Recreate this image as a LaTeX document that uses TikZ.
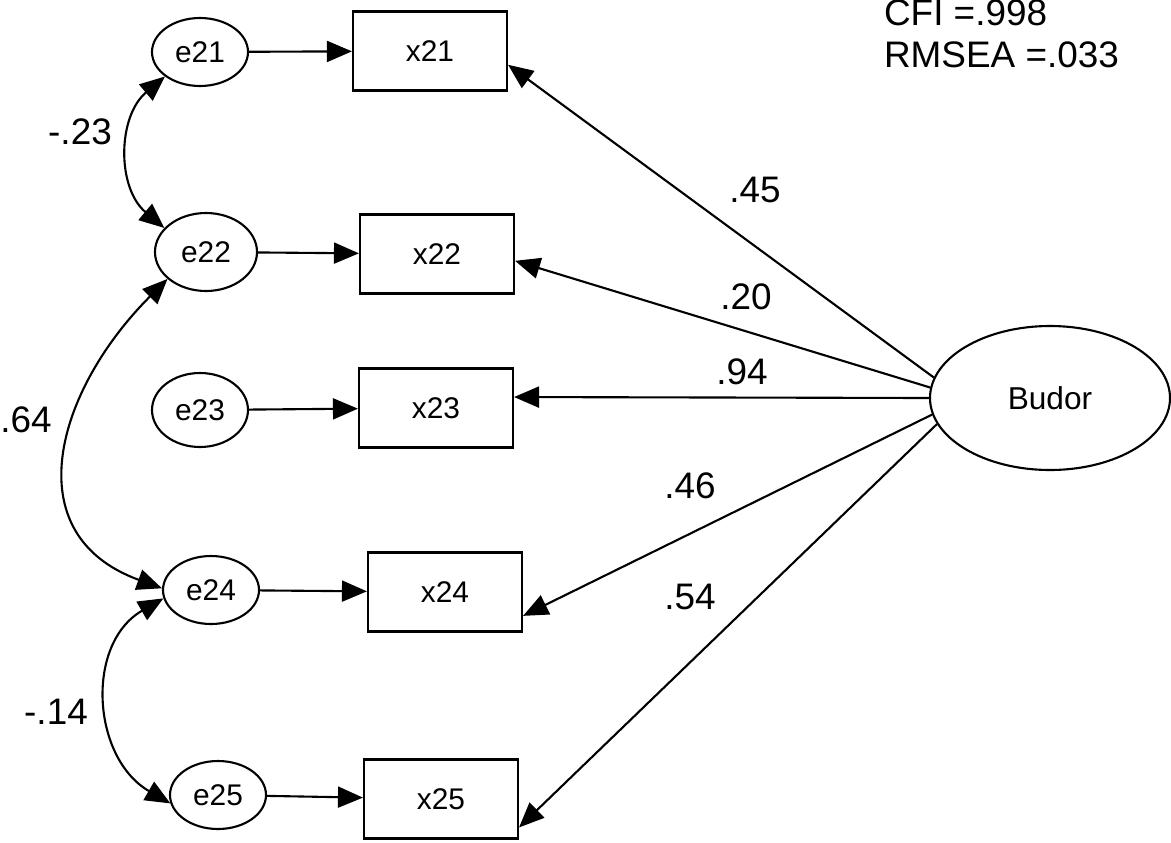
\documentclass[tikz,border=0pt]{standalone}
\usepackage{fontspec}
\setmainfont{Liberation Sans}
\usetikzlibrary{arrows.meta,shapes.geometric}

\begin{document}
\begin{tikzpicture}[x=0.1mm,y=-0.1mm,line width=0.6pt,
	err/.style={ellipse,draw,minimum width=9.6mm,minimum height=6.8mm,inner sep=0pt,font=\fontsize{8.5}{10}\selectfont},
	obs/.style={rectangle,draw,minimum width=15.4mm,minimum height=7.9mm,inner sep=0pt,font=\fontsize{8.5}{10}\selectfont},
	load/.style={-{Triangle[length=2.5mm,width=2.1mm]}},
	cov/.style={{Triangle[length=2.5mm,width=2.1mm]}-{Triangle[length=2.5mm,width=2.1mm]}},
	est/.style={font=\fontsize{10.5}{12}\selectfont}]
	\useasboundingbox (0,0) rectangle (1171,842);
	% error terms
	\node[err] (e21) at (200,52) {e21};
	\node[err,minimum width=10.2mm,minimum height=7.8mm] (e22) at (206,252) {e22};
	\node[err,minimum height=7.4mm] (e23) at (200,410) {e23};
	\node[err] (e24) at (211,590) {e24};
	\node[err] (e25) at (218,795) {e25};
	% observed
	\node[obs] (x21) at (430,51) {x21};
	\node[obs] (x22) at (437,254) {x22};
	\node[obs] (x23) at (436,408) {x23};
	\node[obs] (x24) at (445,592) {x24};
	\node[obs] (x25) at (441,799) {x25};
	% latent
	\node[ellipse,draw,minimum width=24mm,minimum height=14.4mm,inner sep=0pt,
		font=\fontsize{9}{11}\selectfont] (budor) at (1050,398) {Budor};
	% fit
	\node[est,anchor=west,align=left,inner sep=0pt] (fit) at (883,34) {CFI =.998\\RMSEA =.033};
	% residual paths
	\draw[load] (e21) -- (x21);
	\draw[load] (e22) -- (x22);
	\draw[load] (e23) -- (x23);
	\draw[load] (e24) -- (x24);
	\draw[load] (e25) -- (x25);
	% loadings
	\draw[load] (budor.170) -- (x21.-10);
	\draw[load] (budor.175) -- (x22.-5);
	\draw[load] (budor.180) -- (x23.8);
	\draw[load] (budor.188) -- (x24.-17);
	\draw[load] (budor.193) -- (x25.-20);
	\node[est] (l21) at (755,190) {.45};
	\node[est] (l22) at (746,297) {.20};
	\node[est] (l23) at (742,372) {.94};
	\node[est] (l24) at (690,486) {.46};
	\node[est] (l25) at (690,597) {.54};
	% covariances
	\draw[cov] (e21.215) to[out=220,in=140,looseness=1.05] (e22.150);
	\draw[cov] (e22.215) to[out=225,in=160,looseness=1.3] (e24.178);
	\draw[cov] (e24.190) to[out=210,in=150,looseness=1.13] (e25.190);
	\node[est] (c12) at (80,132) {-.23};
	\node[est] (c24) at (26,420) {.64};
	\node[est] (c45) at (56,712) {-.14};
\end{tikzpicture}
\end{document}
